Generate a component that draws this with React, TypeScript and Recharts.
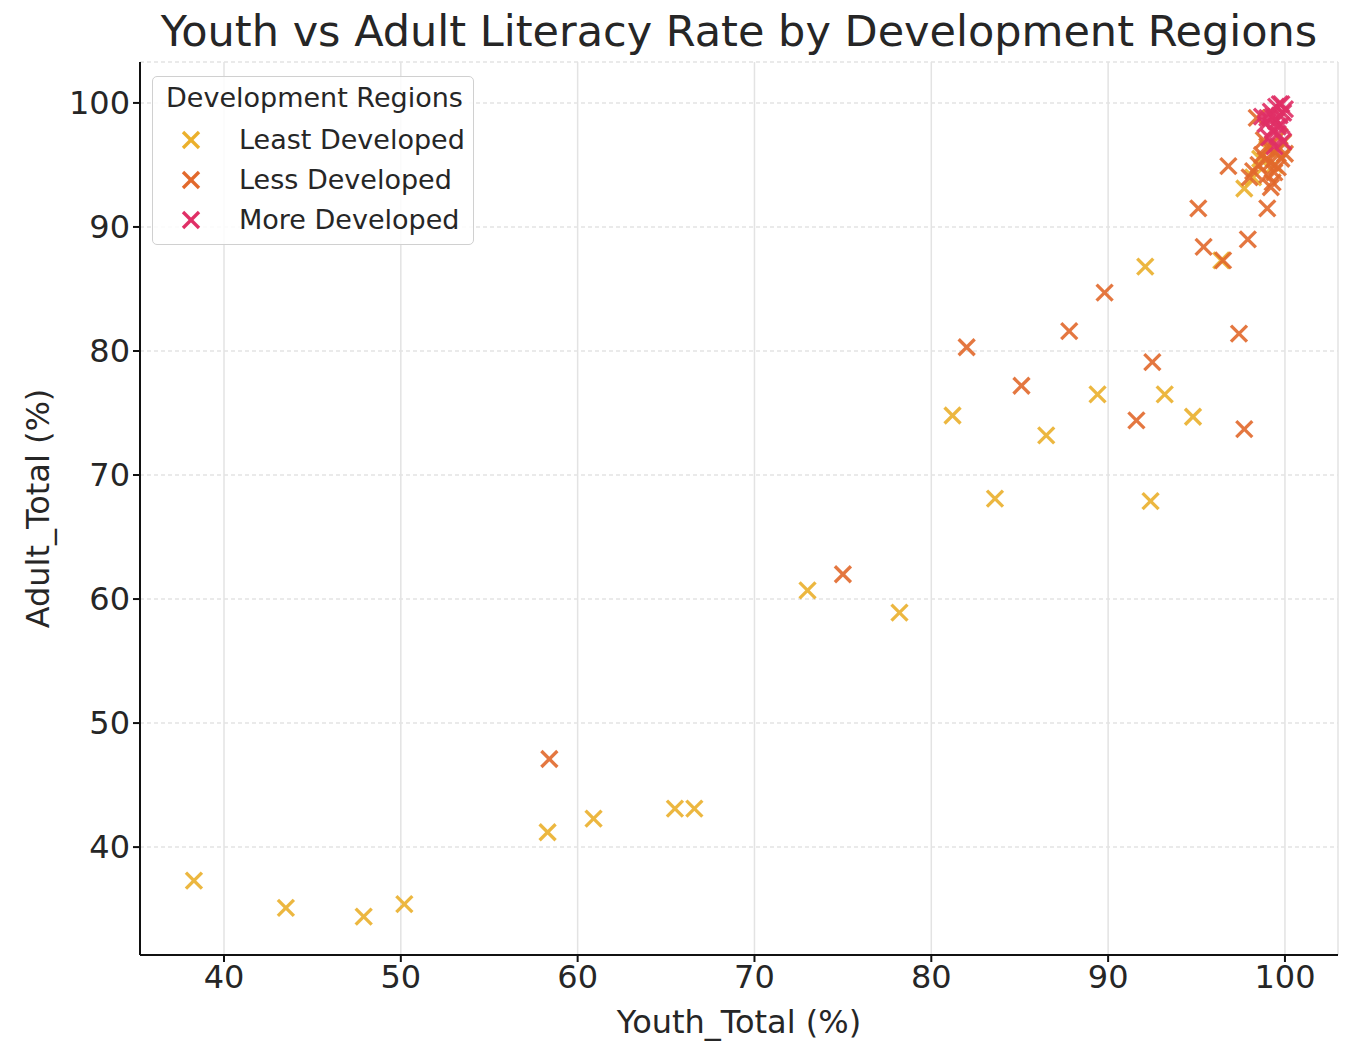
import { ScatterChart, Scatter, XAxis, YAxis, CartesianGrid, Label } from 'recharts'

const xTicks = [40, 50, 60, 70, 80, 90, 100]
const yTicks = [40, 50, 60, 70, 80, 90, 100]

// [Youth_Total, Adult_Total]
const leastDeveloped = [
  [38.3, 37.3], [43.5, 35.1], [47.9, 34.4], [50.2, 35.4], [58.3, 41.2],
  [60.9, 42.3], [65.5, 43.1], [66.6, 43.1], [73.0, 60.7], [78.2, 58.9],
  [81.2, 74.8], [83.6, 68.1], [86.5, 73.2], [89.4, 76.5], [92.1, 86.8],
  [92.4, 67.9], [93.2, 76.5], [94.8, 74.7], [96.4, 87.3], [97.7, 93.1],
  [98.2, 94.0], [98.6, 95.5], [99.4, 95.0], [99.0, 96.3],
]

const lessDeveloped = [
  [58.4, 47.1], [75.0, 62.0], [82.0, 80.3], [85.1, 77.2], [87.8, 81.6],
  [89.8, 84.7], [91.6, 74.4], [92.5, 79.1], [95.1, 91.5], [95.4, 88.4],
  [96.5, 87.3], [96.8, 94.9], [97.4, 81.4], [97.7, 73.7], [97.9, 89.0],
  [99.0, 91.5], [99.2, 93.2], [98.4, 98.8], [99.0, 96.5], [99.5, 96.0],
  [98.7, 95.8], [99.8, 95.5], [99.2, 95.2], [98.5, 95.0], [99.6, 94.8],
  [98.2, 94.5], [99.0, 94.2], [99.9, 96.8], [99.3, 93.6], [100.0, 95.9],
  [98.0, 94.0], [99.7, 97.3], [98.8, 97.0], [99.4, 94.4], [98.9, 95.4],
  [99.6, 96.3],
]

const moreDeveloped = [
  [99.8, 99.9], [99.5, 99.7], [100.0, 99.5], [99.2, 99.3], [99.7, 99.0],
  [99.0, 98.8], [99.5, 98.5], [98.9, 98.3], [99.8, 98.2], [99.3, 97.8],
  [99.6, 97.5], [99.1, 97.2], [99.9, 96.9], [98.7, 98.9], [99.4, 96.5],
  [99.7, 99.9], [99.9, 99.2], [99.3, 98.9], [99.6, 98.1],
]

const series = [
  { name: 'Least Developed', color: '#ebb02c', points: leastDeveloped },
  { name: 'Less Developed', color: '#e2692c', points: lessDeveloped },
  { name: 'More Developed', color: '#e02f66', points: moreDeveloped },
]

const FONT = '"DejaVu Sans", sans-serif'
const TEXT = '#262626'

const xMark = (color: string) => (props: any) => {
  const { cx, cy } = props
  const r = 8
  return (
    <g stroke={color} strokeWidth={3.3} opacity={0.9}>
      <line x1={cx - r} y1={cy - r} x2={cx + r} y2={cy + r} />
      <line x1={cx - r} y1={cy + r} x2={cx + r} y2={cy - r} />
    </g>
  )
}

function LegendBox() {
  return (
    <div
      style={{
        position: 'absolute',
        left: 152,
        top: 76,
        width: 322,
        height: 169,
        boxSizing: 'border-box',
        border: '1.5px solid #d0d0d0',
        borderRadius: 5,
        background: 'rgba(255,255,255,0.85)',
        fontFamily: FONT,
        color: TEXT,
      }}
    >
      <div style={{ position: 'absolute', left: 13, top: 5, fontSize: 27, whiteSpace: 'nowrap' }}>Development Regions</div>
      {series.map((s, i) => (
        <div key={s.name} style={{ position: 'absolute', left: 0, top: 45 + i * 40, height: 36, width: 320 }}>
          <svg width={40} height={36} style={{ position: 'absolute', left: 18, top: 0 }}>
            <g stroke={s.color} strokeWidth={3.3}>
              <line x1={12} y1={10} x2={28} y2={26} />
              <line x1={12} y1={26} x2={28} y2={10} />
            </g>
          </svg>
          <span style={{ position: 'absolute', left: 86, top: 0, fontSize: 27, lineHeight: '36px', whiteSpace: 'nowrap' }}>
            {s.name}
          </span>
        </div>
      ))}
    </div>
  )
}

export default function App() {
  return (
    <div style={{ position: 'absolute', left: 0, top: 0, width: 1345, height: 1041, background: '#fff' }}>
      <div
        style={{
          position: 'absolute',
          left: 140,
          width: 1198,
          top: 6,
          textAlign: 'center',
          fontFamily: FONT,
          fontSize: 43,
          color: TEXT,
          whiteSpace: 'nowrap',
        }}
      >
        Youth vs Adult Literacy Rate by Development Regions
      </div>
      <ScatterChart width={1345} height={1041} margin={{ top: 62, right: 7, bottom: 0, left: 0 }}>
        <CartesianGrid horizontal={false} stroke="#e3e3e3" strokeWidth={1.5} />
        <CartesianGrid vertical={false} stroke="#e3e3e3" strokeWidth={1.5} strokeDasharray="4 3" />
        <XAxis
          type="number"
          dataKey="x"
          domain={[35.25, 103]}
          ticks={xTicks}
          allowDataOverflow
          height={86}
          axisLine={{ stroke: '#111', strokeWidth: 2 }}
          tickLine={{ stroke: '#111', strokeWidth: 2 }}
          tickSize={7}
          tickMargin={3}
          tick={{ fill: TEXT, fontSize: 32, fontFamily: FONT }}
        >
          <Label value="Youth_Total (%)" position="insideBottom" offset={8} fill={TEXT} fontSize={32} fontFamily={FONT} />
        </XAxis>
        <YAxis
          type="number"
          dataKey="y"
          domain={[31.3, 103.3]}
          ticks={yTicks}
          allowDataOverflow
          width={140}
          axisLine={{ stroke: '#111', strokeWidth: 2 }}
          tickLine={{ stroke: '#111', strokeWidth: 2 }}
          tickSize={7}
          tickMargin={3}
          tick={{ fill: TEXT, fontSize: 32, fontFamily: FONT }}
        >
          <Label
            value="Adult_Total (%)"
            angle={-90}
            position="insideLeft"
            offset={38}
            style={{ textAnchor: 'middle' }}
            fill={TEXT}
            fontSize={32}
            fontFamily={FONT}
          />
        </YAxis>
        {series.map((s) => (
          <Scatter
            key={s.name}
            name={s.name}
            data={s.points.map(([x, y]) => ({ x, y }))}
            fill={s.color}
            shape={xMark(s.color)}
            isAnimationActive={false}
          />
        ))}
      </ScatterChart>
      <LegendBox />
    </div>
  )
}
